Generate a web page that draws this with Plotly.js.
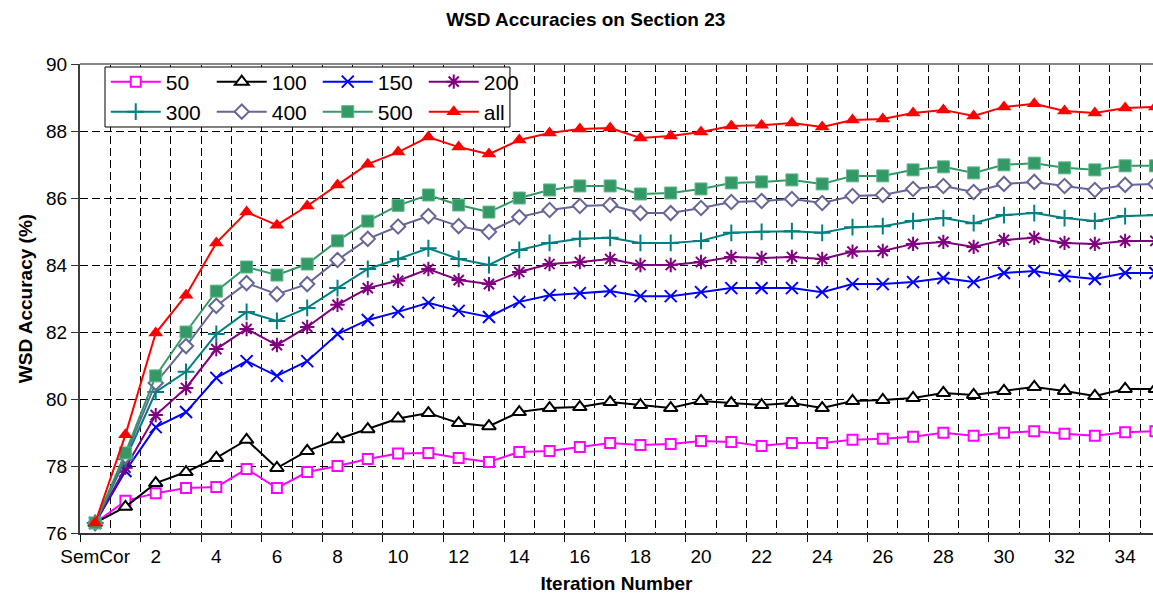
<!DOCTYPE html>
<html>
<head>
<meta charset="utf-8">
<script src="https://cdn.plot.ly/plotly-3.0.1.min.js"></script>
<style>
html,body{margin:0;padding:0;background:#fff;overflow:hidden;}
#chart{width:1153px;height:597px;}
</style>
</head>
<body>
<div id="chart"></div>
<script>
// Categories along the x axis (SemCor baseline, then iterations 1..35)
const categories = ["SemCor","1","2","3","4","5","6","7","8","9","10","11","12","13","14","15","16","17","18","19","20","21","22","23","24","25","26","27","28","29","30","31","32","33","34","35"];
// Tick labels shown on the axis
const tickLabels = ["SemCor","2","4","6","8","10","12","14","16","18","20","22","24","26","28","30","32","34"];

// Series values (WSD accuracy, %)
const s50  = [76.3,76.96,77.19,77.34,77.37,77.91,77.34,77.82,78.0,78.21,78.37,78.39,78.24,78.12,78.42,78.45,78.57,78.69,78.63,78.66,78.75,78.72,78.6,78.69,78.69,78.78,78.81,78.87,78.99,78.9,78.99,79.04,78.96,78.9,79.01,79.04];
const s100 = [76.3,76.78,77.49,77.82,78.24,78.78,77.94,78.45,78.8,79.1,79.42,79.58,79.28,79.19,79.61,79.73,79.76,79.91,79.82,79.73,79.94,79.88,79.82,79.88,79.73,79.94,79.97,80.03,80.18,80.12,80.24,80.36,80.24,80.09,80.3,80.3];
const s150 = [76.3,77.85,79.16,79.61,80.63,81.13,80.69,81.13,81.94,82.36,82.6,82.87,82.63,82.45,82.9,83.1,83.16,83.22,83.07,83.07,83.19,83.31,83.31,83.31,83.19,83.43,83.43,83.49,83.61,83.49,83.76,83.82,83.67,83.58,83.76,83.76];
const s200 = [76.3,77.95,79.52,80.33,81.49,82.09,81.61,82.15,82.81,83.31,83.53,83.88,83.55,83.43,83.79,84.03,84.09,84.18,84.0,84.0,84.09,84.24,84.21,84.24,84.18,84.4,84.42,84.63,84.69,84.54,84.75,84.81,84.66,84.63,84.72,84.72];
const s300 = [76.3,78.2,80.21,80.81,81.94,82.6,82.33,82.72,83.31,83.88,84.18,84.5,84.18,84.0,84.45,84.66,84.78,84.81,84.66,84.66,84.72,84.96,84.99,85.01,84.96,85.13,85.16,85.31,85.4,85.25,85.49,85.55,85.4,85.31,85.46,85.49];
const s400 = [76.3,78.3,80.48,81.58,82.78,83.46,83.13,83.43,84.15,84.78,85.15,85.46,85.16,84.99,85.43,85.64,85.76,85.79,85.55,85.55,85.7,85.88,85.91,85.97,85.85,86.06,86.09,86.27,86.36,86.18,86.42,86.48,86.36,86.24,86.39,86.42];
const s500 = [76.3,78.39,80.69,82.0,83.22,83.94,83.7,84.03,84.72,85.31,85.78,86.09,85.79,85.58,86.0,86.24,86.36,86.36,86.12,86.15,86.27,86.45,86.48,86.54,86.42,86.66,86.66,86.84,86.93,86.75,86.99,87.04,86.9,86.84,86.96,86.96];
const sAll = [76.3,78.93,81.97,83.1,84.66,85.58,85.19,85.76,86.39,87.01,87.37,87.82,87.52,87.31,87.73,87.94,88.06,88.09,87.79,87.85,87.97,88.15,88.17,88.24,88.12,88.33,88.36,88.54,88.63,88.45,88.72,88.81,88.6,88.54,88.69,88.72];

const xIdx = categories.map((c, i) => i);
const FONT = "Liberation Sans, Arial, sans-serif";

function series(name, y, color, symbol, opts, legendId) {
  const o = opts || {};
  return {
    type: "scatter", mode: "lines+markers", name: name,
    x: xIdx, y: y, xaxis: "x", yaxis: "y",
    legend: legendId,
    line: {color: color, width: 2},
    marker: {
      symbol: symbol, size: o.size || 11,
      color: o.fill || color,
      line: {color: o.lineColor || color, width: o.lw === undefined ? 2 : o.lw}
    },
    hoverinfo: "x+y+name"
  };
}

const traces = [
  series("50",  s50,  "#FF00FF", "square",       {fill: "#FFFFFF", size: 10}, "legend"),
  series("100", s100, "#000000", "triangle-up",  {fill: "#FFFFFF", size: 12}, "legend"),
  series("150", s150, "#0000FF", "x-thin",       {size: 12}, "legend"),
  series("200", s200, "#800080", "asterisk",     {size: 12}, "legend"),
  series("300", s300, "#008080", "cross-thin",   {size: 12}, "legend2"),
  series("400", s400, "#666699", "diamond",      {fill: "#FFFFFF", size: 11}, "legend2"),
  series("500", s500, "#339966", "square",       {size: 12, lw: 1, lineColor: "#5FB88A"}, "legend2"),
  series("all", sAll, "#FF0000", "triangle-up",  {size: 13, lw: 0}, "legend2"),
  // helper trace so the label axis is drawn
  {type: "scatter", x: [], y: [], xaxis: "x2", yaxis: "y", showlegend: false, hoverinfo: "skip"}
];

const xRange = [-0.5, 34.92];
const dashPat = "8px,4px";

const legendCommon = {
  orientation: "h", xanchor: "left", yanchor: "middle",
  font: {family: FONT, size: 21, color: "#000"},
  bgcolor: "rgba(0,0,0,0)", borderwidth: 0,
  entrywidth: 41, entrywidthmode: "pixels", itemwidth: 50,
  traceorder: "normal"
};

const layout = {
  width: 1153, height: 597,
  margin: {l: 80, r: 0, t: 64, b: 64, pad: 0},
  paper_bgcolor: "#FFFFFF", plot_bgcolor: "#FFFFFF",
  font: {family: FONT, color: "#000"},
  showlegend: true,
  title: {
    text: "WSD Accuracies on Section 23",
    font: {family: FONT, size: 19, weight: "bold", color: "#000"},
    xref: "container", x: 0.508, xanchor: "center",
    yref: "container", y: 0.968, yanchor: "middle"
  },
  xaxis: {
    type: "linear", range: xRange, fixedrange: true,
    tickmode: "linear", tick0: -0.5, dtick: 2,
    ticks: "outside", ticklen: 7, tickwidth: 1, tickcolor: "#000",
    showticklabels: false,
    showgrid: true, gridcolor: "#000", gridwidth: 1, griddash: dashPat,
    minor: {tickmode: "linear", tick0: -0.5, dtick: 1, showgrid: true, gridcolor: "#000", gridwidth: 1, griddash: dashPat, ticks: ""},
    zeroline: false,
    showline: true, linecolor: "#333333", linewidth: 2
  },
  xaxis2: {
    type: "linear", range: xRange, overlaying: "x", anchor: "y", side: "bottom", fixedrange: true,
    tickmode: "array",
    tickvals: tickLabels.map(t => categories.indexOf(t)),
    ticktext: tickLabels,
    ticks: "", showgrid: false, zeroline: false, showline: false,
    tickfont: {family: FONT, size: 19, color: "#000"},
    ticklabelstandoff: 10,
    title: {text: "Iteration Number", font: {family: FONT, size: 19, weight: "bold", color: "#000"}, standoff: 10}
  },
  yaxis: {
    range: [76, 90], fixedrange: true,
    tickmode: "linear", tick0: 76, dtick: 2,
    ticks: "outside", ticklen: 7, tickwidth: 1, tickcolor: "#333",
    tickfont: {family: FONT, size: 19, color: "#000"},
    showgrid: true, gridcolor: "#000", gridwidth: 1, griddash: dashPat,
    zeroline: false,
    showline: true, linecolor: "#404040", linewidth: 2,
    title: {text: "WSD Accuracy (%)", font: {family: FONT, size: 19, weight: "bold", color: "#000"}, standoff: 8}
  },
  legend: Object.assign({}, legendCommon, {x: 0.024, y: 0.9616, xref: "paper", yref: "paper"}),
  legend2: Object.assign({}, legendCommon, {x: 0.024, y: 0.8977, xref: "paper", yref: "paper"}),
  shapes: [
    {type: "line", xref: "x domain", yref: "y domain", x0: 0, x1: 1, y0: 1, y1: 1, line: {color: "#888888", width: 2}, layer: "above"},
    {type: "rect", xref: "paper", yref: "paper", x0: 0.0233, x1: 0.4007, y0: 0.8657, y1: 0.9936, fillcolor: "#FFFFFF", line: {color: "#000", width: 1}, layer: "above"}
  ]
};

Plotly.newPlot("chart", traces, layout, {staticPlot: true, displayModeBar: false});
</script>
</body>
</html>
